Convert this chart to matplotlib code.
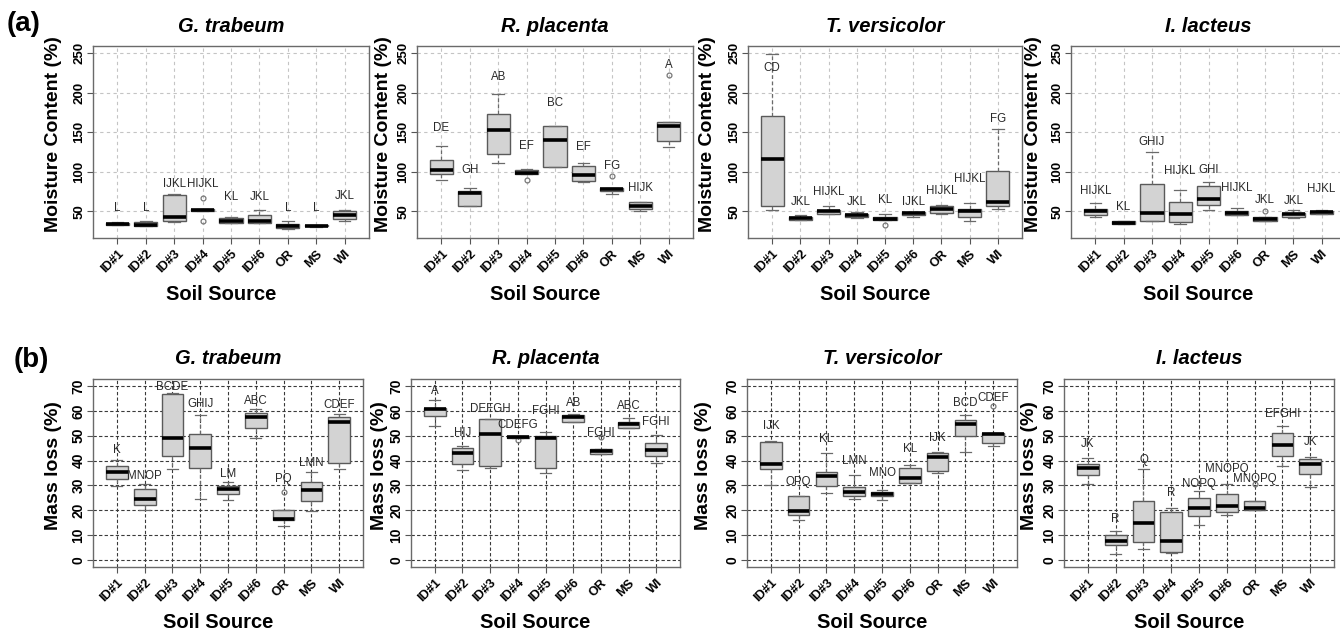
import matplotlib
matplotlib.use("Agg")
import matplotlib.pyplot as plt

# ---------------- data ----------------
SOILS = ["ID#1", "ID#2", "ID#3", "ID#4", "ID#5", "ID#6", "OR", "MS", "WI"]
FUNGI = ["G. trabeum", "R. placenta", "T. versicolor", "I. lacteus"]

# box stats per soil: (lower whisker, Q1, median, Q3, upper whisker)
MC_GT = [(32, 32.8, 33.9, 35, 36), (31, 31.4, 33, 36, 37.3), (36, 37.3, 43, 70.8, 72),
         (50.5, 50.5, 51.7, 53, 53), (35, 35, 37.3, 41, 43), (34.7, 35, 38, 44.5, 51.3),
         (28, 29, 31.4, 34.3, 38), (30.5, 30.8, 31.4, 32, 32.5), (38, 40, 44.5, 50, 52)]
MC_GT_OUT = {3: [67, 37]}
MC_GT_LET = ["L", "L", "IJKL", "HIJKL", "KL", "JKL", "L", "L", "JKL"]
MC_GT_LY = [54, 54, 84.7, 84.7, 68, 68, 54, 54, 69]

MC_RP = [(90, 97.5, 102.5, 114.4, 132), (56.4, 56.8, 72.5, 75, 79), (110.6, 122, 152.5, 173.3, 198.3),
         (96.6, 96.6, 98.7, 101.7, 103.8), (106.4, 106.4, 139.8, 157.6, 158), (86.4, 88, 95.3, 107.6, 111),
         (71.2, 75, 77.5, 79.7, 79.7), (50.4, 53, 56, 61, 61.9), (131.6, 139.2, 157.9, 162.6, 162.6)]
MC_RP_OUT = {3: [89], 6: [95], 8: [221.7]}
MC_RP_LET = ["DE", "GH", "AB", "EF", "BC", "EF", "FG", "HIJK", "A"]
MC_RP_LY = [154.7, 101.7, 219.5, 132.6, 187.3, 131.4, 106.8, 79, 235]

MC_TV = [(51.7, 56.8, 116, 170.8, 249), (39, 39, 40.7, 43.2, 44.5), (46.2, 46.2, 50, 52, 56.4),
         (40.7, 42, 44.5, 47, 49), (39.4, 39.4, 40.3, 42.4, 46.2), (43.2, 45.3, 47.9, 49, 49),
         (45.8, 47.9, 53, 56.8, 57.2), (38, 43.2, 50.8, 52.5, 60.6), (52.5, 56, 61.9, 100.4, 153.8)]
MC_TV_OUT = {4: [32.2]}
MC_TV_LET = ["CD", "JKL", "HIJKL", "JKL", "KL", "IJKL", "HIJKL", "HIJKL", "FG"]
MC_TV_LY = [231, 61.4, 74, 61.4, 63.6, 61.4, 75.4, 91, 166.5]

MC_IL = [(43.2, 44.5, 49.6, 53, 60.6), (33.9, 33.9, 35.2, 36.9, 38.1), (38.1, 38.1, 47.9, 84.7, 124.6),
         (33.9, 36, 46.6, 61.4, 77), (52, 58, 65.7, 81.4, 86.9), (45.3, 45.3, 47.9, 50, 54.2),
         (38.1, 38.1, 40.3, 42.4, 42.4), (40.7, 43.2, 45.8, 47.9, 51.3), (46.6, 46.6, 48.7, 50.8, 51.7)]
MC_IL_OUT = {6: [50]}
MC_IL_LET = ["HIJKL", "KL", "GHIJ", "HIJKL", "GHI", "HIJKL", "JKL", "JKL", "HJKL"]
MC_IL_LY = [75, 55, 137.7, 100.4, 101.7, 79.7, 63.6, 62.7, 78.4]

ML_GT = [(29.6, 32.6, 35.5, 37.8, 40.2), (20.3, 22.1, 24.5, 28.5, 30.4), (36.5, 41.9, 49.2, 66.8, 67.1),
         (24.5, 36.9, 45.1, 50.5, 58.4), (24.1, 26.7, 28.6, 29.8, 31.2), (49.1, 53, 57.4, 59.2, 60.6),
         (13.7, 16, 16.6, 20.3, 20.3), (19.6, 23.7, 28.2, 31.3, 35.3), (36.5, 38.9, 55.4, 57.4, 58.6)]
ML_GT_OUT = {6: [27.2]}
ML_GT_LET = ["K", "MNOP", "BCDE", "GHIJ", "LM", "ABC", "PQ", "LMN", "CDEF"]
ML_GT_LY = [44.2, 33.8, 69.4, 62.7, 34.5, 63.8, 32.6, 38.9, 62.3]

ML_RP = [(53.7, 58.1, 60.6, 61.3, 64.3), (36.2, 38.6, 43.2, 45.2, 46), (36.9, 37.8, 50.8, 56.6, 56.6),
         (48.9, 48.9, 49.3, 49.7, 49.7), (35.1, 36.9, 48.9, 49.7, 51.6), (55.7, 55.7, 57.4, 58.4, 58.8),
         (42.6, 42.6, 43.8, 44.8, 44.8), (52.9, 52.9, 54.6, 55.7, 57.2), (39.1, 41.8, 44.2, 47.2, 50.3)]
ML_RP_OUT = {3: [48.1], 6: [49.5]}
ML_RP_LET = ["A", "HIJ", "DEFGH", "CDEFG", "FGHI", "AB", "FGHI", "ABC", "FGHI"]
ML_RP_LY = [68, 51, 60.6, 54.5, 60.1, 63, 51, 62.1, 55.4]

ML_TV = [(30.3, 36.5, 38.5, 47.5, 47.9), (15.9, 18.3, 19.9, 25.6, 25.6), (26.9, 29.7, 33.6, 35.4, 43.1),
         (24.6, 25.6, 27.2, 29.3, 34), (24, 25.6, 26.5, 27.3, 28.3), (31, 31, 33.1, 37, 38.4),
         (35, 35.8, 41.5, 43.1, 43.5), (43.5, 49.8, 54.9, 56.5, 58.3), (45.8, 47.1, 50.6, 51.1, 51.1)]
ML_TV_OUT = {8: [62]}
ML_TV_LET = ["IJK", "OPQ", "KL", "LMN", "MNO", "KL", "IJK", "BCD", "CDEF"]
ML_TV_LY = [53.8, 31.4, 48.5, 39.7, 35.1, 44.8, 49.1, 63, 65]

ML_IL = [(30.7, 34.3, 37.1, 38.5, 41.1), (2.4, 6.2, 7.7, 10, 11.6), (4.6, 7.3, 14.8, 23.7, 36.6),
         (2.8, 3.1, 7.5, 19.2, 20.9), (13.9, 17.6, 20.9, 25.1, 27.8), (18, 19.4, 21.6, 26.5, 30.5),
         (20.3, 20.3, 20.9, 23.7, 23.7), (38, 41.9, 46.1, 50.9, 53.8), (29.5, 34.5, 38.6, 40.6, 41.3)]
ML_IL_OUT = {6: [30.5]}
ML_IL_LET = ["JK", "R", "Q", "R", "NOPQ", "MNOPQ", "MNOPQ", "EFGHI", "JK"]
ML_IL_LY = [46.8, 16.6, 40.1, 27.1, 30.5, 36.5, 32.5, 58.6, 47.6]

MC_TICKS = [50, 100, 150, 200, 250]
ML_TICKS = [0, 10, 20, 30, 40, 50, 60, 70]

# ---------------- layout ----------------
W, H = 1340, 631
fig = plt.figure(figsize=(W / 100, H / 100), dpi=100)
fig.patch.set_facecolor("white")
FONT = "Liberation Sans"

TOP_X = [(93, 369), (417, 693), (748, 1022), (1071, 1346)]
BOT_X = [(93, 363), (411, 680), (747, 1017), (1064, 1334)]
TOP_Y = (46, 238)
BOT_Y = (379, 567)
TOP_YL_X = [54, 384, 707, 1034]
BOT_YL_X = [53, 380, 704, 1029]


def add_ax(xr, yr):
    x0, x1 = xr
    yt, yb = yr
    return fig.add_axes([x0 / W, 1 - yb / H, (x1 - x0) / W, (yb - yt) / H])


def draw_panel(ax, stats, outs, letters, lab_y, ylim, ticks, grid_col, grid_ls, width, ytick_fs):
    bstats = []
    for i, (lo, q1, med, q3, hi) in enumerate(stats):
        bstats.append(dict(whislo=lo, q1=q1, med=med, q3=q3, whishi=hi,
                           fliers=outs.get(i, []), label=SOILS[i]))
    pos = list(range(1, len(SOILS) + 1))
    ax.bxp(bstats, positions=pos, widths=width, patch_artist=True, showfliers=True,
           boxprops=dict(facecolor="#d3d3d3", edgecolor="#5a5a5a", linewidth=1.0),
           medianprops=dict(color="black", linewidth=2.6, solid_capstyle="butt"),
           whiskerprops=dict(color="#6a6a6a", linewidth=0.9, linestyle=(0, (3, 2))),
           capprops=dict(color="#6a6a6a", linewidth=0.9),
           flierprops=dict(marker="o", markerfacecolor="none", markeredgecolor="#777777",
                           markersize=3.5, markeredgewidth=0.9),
           capwidths=width * 0.5)
    for i, (t, y) in enumerate(zip(letters, lab_y)):
        ax.text(pos[i], y, t, ha="center", va="center", fontsize=8.3,
                family=FONT, color="#2a2a2a")
    ax.set_xlim(0.14, 9.86)
    ax.set_ylim(*ylim)
    ax.set_xticks(pos)
    ax.set_xticklabels(SOILS, rotation=45, ha="right", va="top", rotation_mode="anchor",
                       fontsize=9.2, fontweight="bold", family=FONT)
    ax.set_yticks(ticks)
    ax.set_yticklabels([str(t) for t in ticks], rotation=90, va="center", ha="right",
                       fontsize=ytick_fs, fontweight="bold", family=FONT)
    ax.tick_params(axis="both", color="#555555", length=4, width=0.8, pad=3)
    ax.tick_params(axis="y", pad=1.5)
    ax.grid(True, color=grid_col, linestyle=grid_ls, linewidth=0.8)
    ax.set_axisbelow(True)
    for sp in ax.spines.values():
        sp.set_color("#6a6a6a")
        sp.set_linewidth(1.0)
    for lab in ax.get_yticklabels():
        lab.set_verticalalignment("center")


top_sets = [(MC_GT, MC_GT_OUT, MC_GT_LET, MC_GT_LY), (MC_RP, MC_RP_OUT, MC_RP_LET, MC_RP_LY),
            (MC_TV, MC_TV_OUT, MC_TV_LET, MC_TV_LY), (MC_IL, MC_IL_OUT, MC_IL_LET, MC_IL_LY)]
bot_sets = [(ML_GT, ML_GT_OUT, ML_GT_LET, ML_GT_LY), (ML_RP, ML_RP_OUT, ML_RP_LET, ML_RP_LY),
            (ML_TV, ML_TV_OUT, ML_TV_LET, ML_TV_LY), (ML_IL, ML_IL_OUT, ML_IL_LET, ML_IL_LY)]

for k in range(4):
    # moisture content
    ax = add_ax(TOP_X[k], TOP_Y)
    s, o, le, ly = top_sets[k]
    draw_panel(ax, s, o, le, ly, (16, 259), MC_TICKS, "#c4c4c4", (0, (3, 3)), 0.82, 9.5)
    cx = (TOP_X[k][0] + TOP_X[k][1]) / 2
    fig.text(cx / W, 1 - 27 / H, FUNGI[k], ha="center", va="center", fontsize=14.5,
             fontweight="bold", style="italic", family=FONT)
    fig.text((cx - 10) / W, 1 - 295 / H, "Soil Source",
             ha="center", va="center", fontsize=14.5, fontweight="bold", family=FONT)
    fig.text(TOP_YL_X[k] / W, 1 - 134 / H, "Moisture Content (%)", rotation=90,
             ha="center", va="center", fontsize=14, fontweight="bold", family=FONT)

    # mass loss
    ax = add_ax(BOT_X[k], BOT_Y)
    s, o, le, ly = bot_sets[k]
    draw_panel(ax, s, o, le, ly, (-2.8, 72.8), ML_TICKS, "#3a3a3a", (0, (3, 2)), 0.78, 10)
    cx = (BOT_X[k][0] + BOT_X[k][1]) / 2
    fig.text(cx / W, 1 - 359 / H, FUNGI[k], ha="center", va="center", fontsize=14.5,
             fontweight="bold", style="italic", family=FONT)
    fig.text((cx - 10) / W, 1 - 622 / H, "Soil Source", ha="center", va="center",
             fontsize=14.5, fontweight="bold", family=FONT)
    fig.text(BOT_YL_X[k] / W, 1 - 466 / H, "Mass loss (%)", rotation=90,
             ha="center", va="center", fontsize=14, fontweight="bold", family=FONT)

fig.text(24 / W, 1 - 24 / H, "(a)", ha="center", va="center", fontsize=20,
         fontweight="bold", family=FONT)
fig.text(31 / W, 1 - 360 / H, "(b)", ha="center", va="center", fontsize=20,
         fontweight="bold", family=FONT)

fig.savefig("out.png", dpi=100, facecolor="white")
